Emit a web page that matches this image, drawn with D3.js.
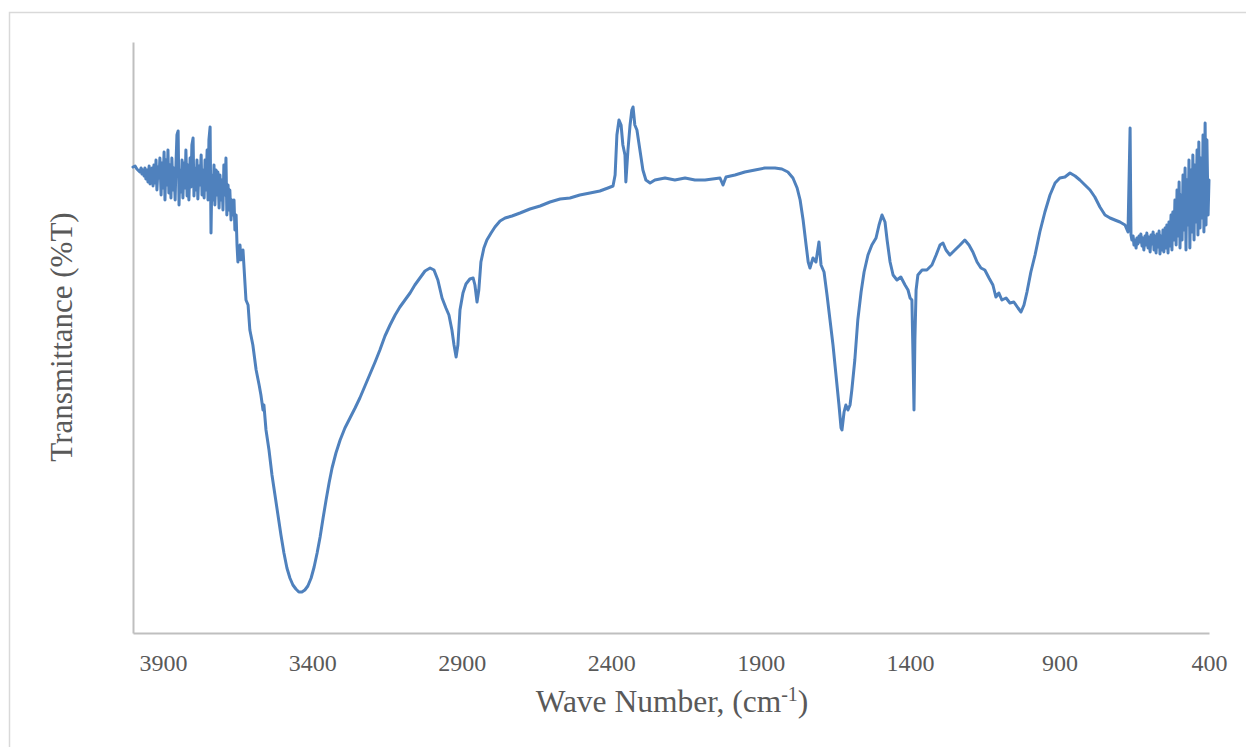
<!DOCTYPE html>
<html>
<head>
<meta charset="utf-8">
<script src="https://cdn.jsdelivr.net/npm/d3@7"></script>
<style>
  html, body { margin: 0; padding: 0; background: #ffffff; }
  svg { display: block; }
  text { font-family: "Liberation Serif", "Times New Roman", serif; fill: #595959; }
</style>
</head>
<body>
<svg id="chart" width="1246" height="747"></svg>
<script>
// FTIR spectrum: wave number (cm-1) and transmittance (%T)
const waveNumber = [
  4000, 3993, 3987,
  3977, 3973, 3970, 3967, 3963, 3960, 3957, 3953, 3950, 3946,
  3943, 3940, 3936, 3933, 3930, 3926, 3923, 3920, 3916, 3913,
  3910, 3906, 3903, 3900, 3896, 3893, 3890, 3886, 3883, 3880,
  3876, 3873, 3870, 3866, 3863, 3859, 3856, 3853, 3849, 3846,
  3843, 3839, 3836, 3833, 3829, 3826, 3823, 3819, 3816, 3813,
  3809, 3806, 3803, 3799, 3796, 3793, 3789, 3786, 3783, 3779,
  3776, 3772, 3769, 3766, 3762, 3759, 3756, 3752, 3749, 3746,
  3742, 3739, 3736, 3732, 3729, 3726, 3722, 3719, 3716, 3712,
  3709, 3706, 3702, 3699, 3696, 3692, 3689, 3686, 3682, 3679,
  3676, 3672, 3669, 3666, 3662, 3659, 3655, 3652, 3649,
  3642, 3639, 3632, 3625, 3622, 3615, 3609, 3599, 3588, 3578,
  3572, 3565, 3562, 3555, 3545, 3535, 3525, 3515, 3505, 3495, 3485, 3475, 3465, 3455, 3445, 3435,
  3425, 3415, 3404, 3394, 3384, 3374, 3364, 3354, 3344, 3334, 3321, 3307, 3291, 3274, 3257, 3241,
  3224, 3207, 3190, 3174, 3157, 3140, 3123, 3107, 3090, 3073, 3057, 3040, 3023, 3006, 2993, 2980,
  2966, 2953, 2943, 2933, 2926, 2919, 2913, 2906, 2896, 2886, 2873, 2862, 2856, 2849, 2843, 2836,
  2826, 2816, 2802, 2789, 2772, 2755, 2732, 2705, 2672, 2638, 2605, 2571, 2538, 2505, 2471, 2438,
  2411, 2394, 2387, 2381, 2374, 2367, 2361, 2354, 2351, 2344, 2337, 2331, 2327, 2321, 2314, 2304,
  2294, 2284, 2270, 2254, 2220, 2187, 2153, 2120, 2086, 2036, 2026, 2016, 1986, 1953, 1919, 1886,
  1852, 1829, 1809, 1792, 1778, 1768, 1758, 1748, 1741, 1735, 1725, 1715, 1705, 1698, 1688, 1678,
  1668, 1658, 1648, 1638, 1631, 1628, 1621, 1615, 1608, 1601, 1595, 1585, 1575, 1564, 1554, 1541,
  1528, 1514, 1504, 1494, 1484, 1477, 1467, 1457, 1444, 1431, 1417, 1407, 1400, 1394, 1390, 1387,
  1384, 1380, 1374, 1360, 1344, 1327, 1313, 1300, 1290, 1280, 1267, 1250, 1233, 1217, 1203, 1190,
  1176, 1163, 1150, 1136, 1123, 1113, 1103, 1093, 1079, 1066, 1053, 1039, 1029, 1019, 1009, 996,
  982, 966, 949, 932, 915, 899, 882, 865, 848, 832, 815, 798, 782, 765, 748, 731,
  715, 698, 681, 671,
  664,
  661, 658, 654, 651, 648, 644, 641, 638, 634, 631,
  628, 624, 621, 618, 614, 611, 608, 604, 601, 597,
  594, 591, 587, 584, 581, 577, 574, 571, 567, 564,
  561, 557, 554, 551, 547, 544, 541, 537, 534, 531,
  527, 524, 521, 517, 514, 510, 507, 504, 500, 497,
  494, 490, 487, 484, 480, 477, 474, 470, 467, 464,
  460, 457, 454, 450, 447, 444, 440, 437, 434, 430,
  427, 423, 420, 417, 413, 410, 407, 403, 400
];
const transmittance = [
  46.6, 46.7, 46.4,
  46.1, 46.5, 45.9, 46.3, 45.7, 46.5, 45.4, 46.3, 45.1, 46.7,
  44.9, 46.1, 46.5, 44.7, 46.8, 45.0, 47.3, 44.3, 46.6, 45.5,
  47.5, 43.8, 47.0, 44.5, 48.1, 43.3, 47.3, 44.8, 48.3, 44.0,
  46.8, 43.5, 47.5, 44.3, 46.5, 43.3, 47.1, 49.8, 50.2, 42.8,
  46.3, 44.1, 47.3, 43.5, 47.0, 44.5, 48.3, 43.7, 46.8, 43.3,
  47.5, 44.6, 48.8, 49.5, 43.7, 46.5, 44.3, 47.3, 43.4, 46.7,
  44.8, 47.8, 43.8, 46.3, 43.5, 47.3, 44.3, 48.3, 43.3, 49.3,
  50.6, 40.0, 45.8, 43.3, 46.8, 42.8, 46.3, 43.8, 46.1, 42.5,
  45.8, 43.3, 45.3, 42.3, 46.8, 43.8, 47.5, 41.8, 44.8, 42.3,
  44.3, 41.3, 43.3, 41.8, 43.3, 40.3, 41.8, 38.8, 37.1,
  38.8, 37.3, 38.3, 34.8, 33.3, 32.8, 30.3, 28.8, 26.3, 24.8,
  23.8, 22.3, 22.8, 20.3, 18.3, 15.8, 13.8, 11.8, 9.8, 8.0, 6.5, 5.5, 4.8, 4.4, 4.1, 4.1,
  4.3, 4.7, 5.5, 6.6, 8.0, 9.6, 11.5, 13.3, 15.0, 16.5, 18.0, 19.3, 20.5, 21.5, 22.5, 23.5,
  24.7, 25.9, 27.1, 28.3, 29.7, 30.8, 31.8, 32.6, 33.3, 34.0, 34.8, 35.5, 36.2, 36.5, 36.3, 35.3,
  33.5, 32.5, 31.8, 30.3, 28.8, 27.6, 28.8, 32.3, 34.0, 34.9, 35.4, 35.5, 34.8, 33.1, 34.3, 37.1,
  38.5, 39.3, 40.0, 40.6, 41.2, 41.5, 41.7, 42.0, 42.4, 42.7, 43.1, 43.4, 43.5, 43.8, 44.0, 44.2,
  44.5, 44.7, 45.8, 49.8, 51.3, 50.8, 48.8, 47.8, 45.1, 48.3, 50.8, 52.3, 52.6, 50.8, 50.3, 48.3,
  46.3, 45.3, 45.0, 45.3, 45.5, 45.3, 45.5, 45.3, 45.3, 45.5, 44.8, 45.6, 45.8, 46.1, 46.3, 46.5,
  46.5, 46.4, 46.1, 45.5, 44.5, 43.3, 41.3, 38.8, 37.1, 36.5, 37.5, 37.1, 39.1, 36.8, 36.1, 33.8,
  31.3, 28.8, 25.8, 22.8, 20.5, 20.3, 22.1, 22.8, 22.3, 22.8, 24.3, 27.3, 31.3, 34.1, 36.1, 37.8,
  38.8, 39.5, 40.8, 41.8, 41.1, 39.3, 37.1, 35.8, 35.3, 35.6, 34.8, 34.3, 33.5, 33.3, 27.3, 22.3,
  29.3, 34.3, 35.8, 36.3, 36.3, 36.8, 37.8, 38.8, 39.0, 38.3, 37.8, 38.3, 38.8, 39.3, 38.8, 38.1,
  37.1, 36.5, 36.3, 35.5, 34.8, 33.6, 34.0, 33.3, 33.5, 33.0, 33.1, 32.5, 32.1, 32.8, 34.1, 36.1,
  37.8, 40.1, 42.1, 43.8, 45.0, 45.5, 45.6, 46.0, 45.7, 45.3, 44.8, 44.3, 43.6, 42.6, 41.8, 41.5,
  41.3, 41.1, 40.8, 40.1,
  50.5,
  39.8, 39.3, 39.7, 38.8, 39.3, 38.5, 39.5, 38.9, 39.7, 39.1,
  39.9, 38.7, 39.5, 38.3, 39.7, 38.8, 40.0, 38.5, 39.6, 38.1,
  39.8, 38.9, 40.1, 38.3, 39.7, 38.0, 39.9, 38.6, 40.2, 37.9,
  39.7, 38.3, 40.3, 38.1, 40.5, 38.5, 40.8, 38.0, 41.1, 38.7,
  41.8, 38.3, 42.1, 39.3, 43.3, 38.8, 44.3, 39.7, 45.1, 38.5,
  43.8, 39.3, 45.8, 40.3, 46.5, 38.3, 45.3, 40.8, 47.3, 38.5,
  46.3, 40.1, 47.8, 39.3, 46.8, 41.1, 48.3, 39.8, 49.1, 40.5,
  47.5, 41.5, 49.8, 40.1, 51.0, 40.8, 49.3, 41.8, 45.3
];
const tickLabels = [3900, 3400, 2900, 2400, 1900, 1400, 900, 400];
const xTitle = "Wave Number, (cm";
const yTitle = "Transmittance (%T)";

const svg = d3.select("#chart");

// outer chart frame
svg.append("rect")
  .attr("x", 9.5).attr("y", 12.5)
  .attr("width", 1300).attr("height", 800)
  .attr("fill", "none").attr("stroke", "#d9d9d9").attr("stroke-width", 1.5);

const x = d3.scaleLinear().domain([4000, 400]).range([133, 1209]);
const y = d3.scaleLinear().domain([0, 59.1]).range([633, 42]);

// x axis: bottom line and wave-number labels
const xAxis = svg.append("g")
  .attr("transform", "translate(0,633)")
  .call(d3.axisBottom(x).tickValues(tickLabels).tickFormat(d3.format("d")).tickSize(0).tickPadding(21));
xAxis.select(".domain").attr("stroke", "#bfbfbf").attr("stroke-width", 2);
xAxis.selectAll("text").attr("font-size", 24).attr("fill", "#595959")
  .style("font-family", "'Liberation Serif', 'Times New Roman', serif");

// y axis: plain vertical line, no ticks
const yAxis = svg.append("g")
  .attr("transform", "translate(133,0)")
  .call(d3.axisLeft(y).tickValues([]).tickSizeOuter(0));
yAxis.select(".domain").attr("stroke", "#bfbfbf").attr("stroke-width", 2);

// spectrum trace
const pts = waveNumber.map((w, i) => [w, transmittance[i]]);
svg.append("path")
  .datum(pts)
  .attr("fill", "none")
  .attr("stroke", "#4f81bd")
  .attr("stroke-width", 3)
  .attr("stroke-linejoin", "round")
  .attr("stroke-linecap", "round")
  .attr("d", d3.line().x(d => x(d[0])).y(d => y(d[1])));

// axis titles
const xt = svg.append("text")
  .attr("x", 672).attr("y", 712)
  .attr("text-anchor", "middle")
  .attr("font-size", 31.5);
xt.append("tspan").text(xTitle);
xt.append("tspan").attr("font-size", 20).attr("dy", -11).text("-1");
xt.append("tspan").attr("dy", 11).text(")");

svg.append("text")
  .attr("transform", "translate(72,337) rotate(-90)")
  .attr("text-anchor", "middle")
  .attr("font-size", 31)
  .text(yTitle);
</script>
</body>
</html>
